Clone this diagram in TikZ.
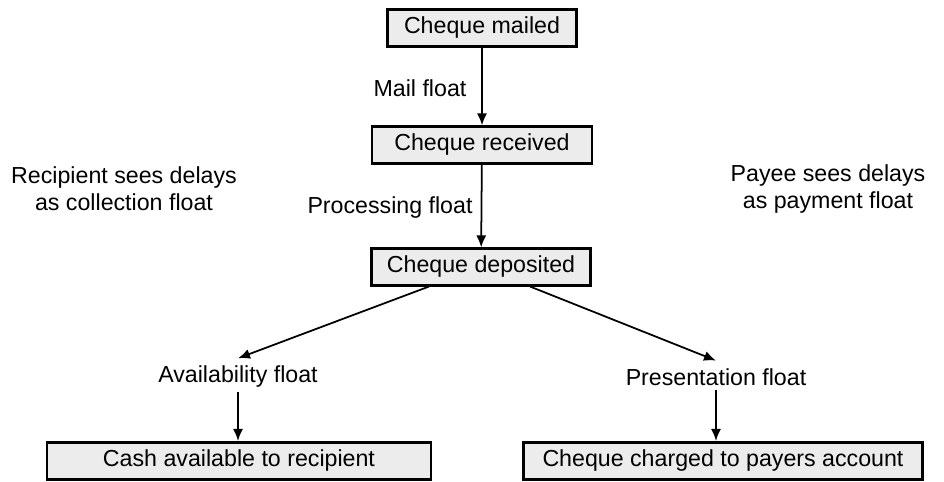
\documentclass[tikz,border=0pt]{standalone}
\usepackage{fontspec}
\setmainfont{Liberation Sans}
\usetikzlibrary{arrows.meta,positioning}

\begin{document}
\begin{tikzpicture}[
    x=0.02cm, y=-0.02cm,
    font=\fontsize{13.2}{15.5}\selectfont,
    >={Latex[length=2.4mm,width=2mm]},
    stage/.style={
      draw,
      fill=gray!15,
      line width=1.2pt,
      minimum height=7.4mm,
      inner sep=2pt
    },
    float/.style={
      inner sep=2pt
    },
    note/.style={
      align=center,
      inner sep=0pt
    },
    every path/.style={line width=1pt}
  ]
  \useasboundingbox (0,0) rectangle (944,482);

  % ========== Cheque path ==========
  \node[stage,minimum width=37.8mm] (mailed) at (482,28) {Cheque mailed};
  \node[stage,minimum width=44mm] (received) at (482,145) {Cheque received};
  \node[stage,minimum width=43.8mm] (deposited) at (481,267) {Cheque deposited};

  \node[float] (mail) at (420,88) {Mail float};
  \node[float] (proc) at (390,208) {Processing float};

  \node[note] (recip) at (124,189)
    {Recipient sees delays\\as collection float};
  \node[note] (payee) at (828,189)
    {Payee sees delays\\as payment float};

  % ========== Branches ==========
  \node[float] (avail) at (238,377) {Availability float};
  \node[float] (pres) at (716,377) {Presentation float};

  \node[stage,minimum width=76.8mm] (cash) at (239,461)
    {Cash available to recipient};
  \node[stage,minimum width=79.8mm] (charged) at (723,461)
    {Cheque charged to payers account};

  \coordinate (cashtop) at (238,441);
  \coordinate (chargedtop) at (716,441);

  \draw[->] (mailed) -- (received);
  \draw[->] (received) -- (deposited);
  \draw[->] (deposited) -- ([yshift=2pt]avail.north);
  \draw[->] (deposited) -- ([yshift=2pt]pres.north);
  \draw[->] (avail) -- (cashtop);
  \draw[->] (pres) -- (chargedtop);
\end{tikzpicture}
\end{document}
